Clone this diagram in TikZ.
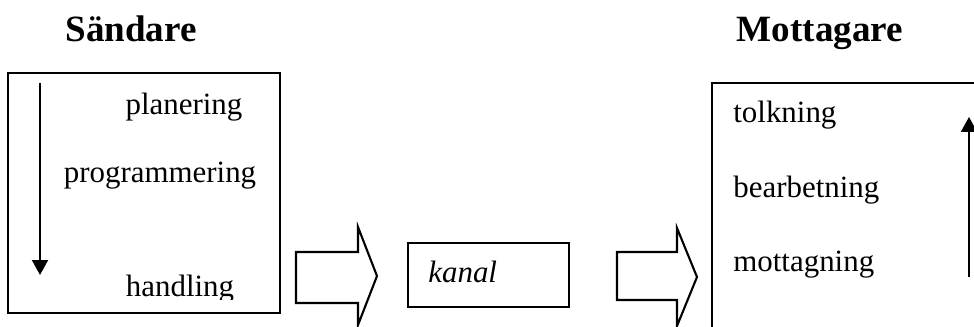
\documentclass[tikz,border=0pt]{standalone}
\usepackage{fontspec}
\setmainfont{Liberation Serif}
\usetikzlibrary{arrows.meta, positioning}

\begin{document}
\begin{tikzpicture}[x=0.02cm, y=-0.02cm,
        box/.style={draw, rectangle, line width=1.2pt, inner sep=0pt},
        word/.style={font=\fontsize{17.6}{20}\selectfont, inner sep=0pt},
        title/.style={font=\fontsize{21.1}{24}\selectfont\bfseries, inner sep=0pt, anchor=base},
        flow/.style={draw, line width=1.2pt, line join=miter},
        arrow/.style={-{Triangle[width=0.32cm, length=0.3cm]}, line width=1.1pt}
    ]
        \clip (0,0) rectangle (974,327);
        % titles
        \node[title] (sender) at (131,42) {Sändare};
        \node[title] (receiver) at (820,42) {Mottagare};
        % boxes
        \node[box, minimum width=5.44cm, minimum height=4.8cm] (sendbox) at (144,193) {};
        \node[box, minimum width=3.22cm, minimum height=1.28cm] (channel) at (488.5,275) {};
        \node[box, minimum width=5.76cm, minimum height=5.54cm] (recvbox) at (856,221.5) {};
        % sender steps
        \node[word, anchor=base] (plan) at (184,115) {planering};
        \node[word, anchor=base] (prog) at (160,183) {programmering};
        \begin{scope}
            \clip (10,75) rectangle (278,300);
            \node[word, anchor=base] (act) at (180,297) {handling};
        \end{scope}
        % receiver steps
        \node[word, anchor=base west] (interp) at (733,123) {tolkning};
        \node[word, anchor=base west] (proc) at (733,198) {bearbetning};
        \node[word, anchor=base west] (recv) at (733,272) {mottagning};
        \node[word, anchor=base west, font=\fontsize{17.6}{20}\selectfont\itshape] (chlabel) at (428,283) {kanal};
        % block arrows
        \draw[flow] (296,252) -- (358,252) -- (358,227) -- (377,276) -- (358,325) -- (358,303) -- (296,303) -- cycle;
        \draw[flow] (617,252) -- (677,252) -- (677,228) -- (697,277) -- (677,326) -- (677,300) -- (617,300) -- cycle;
        % direction arrows
        \coordinate (sendtop) at (40,83);
        \coordinate (sendend) at (40,275);
        \coordinate (recvbot) at (969,277);
        \coordinate (recvtop) at (969,117);
        \draw[arrow] (sendtop) -- (sendend);
        \draw[arrow] (recvbot) -- (recvtop);
    \end{tikzpicture}
\end{document}
